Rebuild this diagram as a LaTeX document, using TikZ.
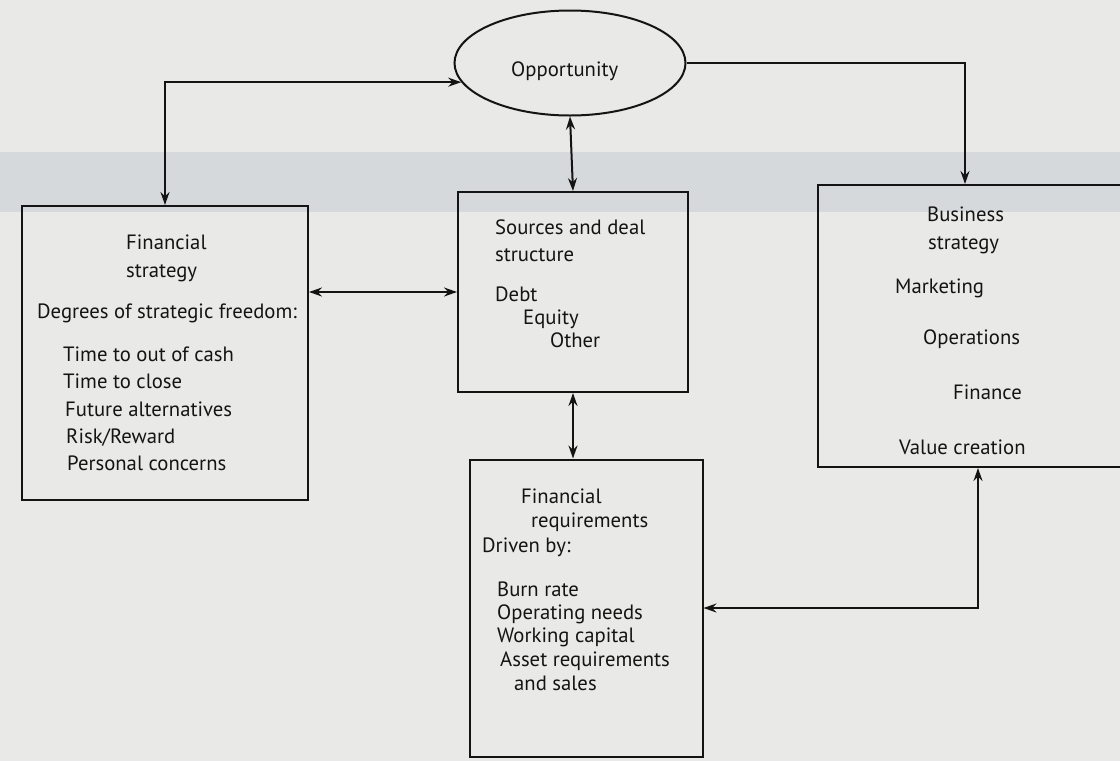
\documentclass[tikz,border=0pt]{standalone}
\usepackage{fontspec}
\setmainfont{PT Sans}
\usetikzlibrary{arrows.meta,shapes.geometric,calc}
\definecolor{paper}{HTML}{E9E9E7}
\definecolor{band}{HTML}{D6D9DB}
\definecolor{ink}{HTML}{141414}
\begin{document}
\begin{tikzpicture}[x=1pt,y=-1pt,
  box/.style={draw=ink,line width=2pt,inner sep=0pt},
  txt/.style={anchor=base west,inner sep=0pt,font=\fontsize{20.7}{24}\selectfont,text=ink},
  conn/.style={draw=ink,line width=2pt,{Stealth[length=13pt,width=9pt]}-{Stealth[length=13pt,width=9pt]}},
  oneway/.style={draw=ink,line width=2pt,-{Stealth[length=13pt,width=9pt]}}]
\useasboundingbox (0,0) rectangle (1120,761);
\clip (0,0) rectangle (1120,761);
\fill[paper] (0,0) rectangle (1120,761);
\fill[band] (0,152) rectangle (1120,212);
% shapes
\node[box,ellipse,minimum width=231pt,minimum height=105pt] (opp) at (570,63) {};
\node[box,minimum width=286pt,minimum height=294pt] (lbox) at (165,353) {};
\node[box,minimum width=230pt,minimum height=200pt] (mbox) at (573,292) {};
\node[box,minimum width=233pt,minimum height=297pt] (bbox) at (586,608) {};
\node[box,minimum width=307pt,minimum height=282pt] (rbox) at (971,326) {};
% texts
\node[txt] (t1) at (511,76) {Opportunity};
\node[txt] (l1) at (126,249) {Financial};
\node[txt] (l2) at (126,277) {strategy};
\node[txt] (l3) at (37,318) {Degrees of strategic freedom:};
\node[txt] (l4) at (63,361) {Time to out of cash};
\node[txt] (l5) at (63,388) {Time to close};
\node[txt] (l6) at (65,416) {Future alternatives};
\node[txt] (l7) at (66,443) {Risk/Reward};
\node[txt] (l8) at (67,470) {Personal concerns};
\node[txt] (m1) at (495,234) {Sources and deal};
\node[txt] (m2) at (495,261) {structure};
\node[txt] (m3) at (495,301) {Debt};
\node[txt] (m4) at (523,324) {Equity};
\node[txt] (m5) at (550,347) {Other};
\node[txt] (b1) at (521,503) {Financial};
\node[txt] (b2) at (531,527) {requirements};
\node[txt] (b3) at (482,552) {Driven by:};
\node[txt] (b4) at (497,596) {Burn rate};
\node[txt] (b5) at (497,619) {Operating needs};
\node[txt] (b6) at (497,642) {Working capital};
\node[txt] (b7) at (500,666) {Asset requirements};
\node[txt] (b8) at (514,690) {and sales};
\node[txt] (r1) at (927,221) {Business};
\node[txt] (r2) at (928,249) {strategy};
\node[txt] (r3) at (895,293) {Marketing};
\node[txt] (r4) at (923,344) {Operations};
\node[txt] (r5) at (953,399) {Finance};
\node[txt] (r6) at (899,454) {Value creation};
% connectors
\draw[conn] (opp.190) -| (lbox.north);
\draw[oneway] (opp.east) -| ([xshift=-6pt]rbox.north);
\draw[conn] (opp.south) -- (mbox.north);
\draw[conn] (lbox.east |- mbox.west) -- (mbox.west);
\draw[conn] (mbox.south) -- (mbox.south |- bbox.north);
\draw[conn] ([xshift=7pt]rbox.south) |- (bbox.east);
\end{tikzpicture}
\end{document}
